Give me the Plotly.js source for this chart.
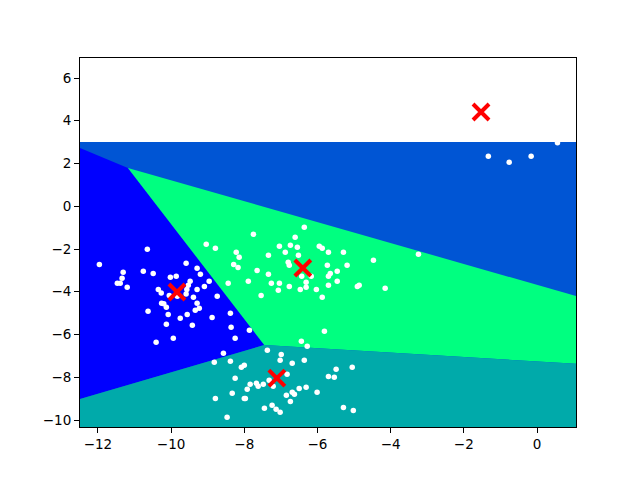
<!DOCTYPE html>
<html>
<head>
<meta charset="utf-8">
<script src="https://cdn.plot.ly/plotly-3.0.1.min.js"></script>
<style>html,body{margin:0;padding:0;background:#fff;}#chart{width:640px;height:480px;}</style>
</head>
<body>
<div id="chart"></div>
<script>
// ---- Data ----
const pointsX = [
  -10.65,-11.96,-9.04,-8.79,-8.22,-8.14,-8.29,-8.17,-9.59,-11.31,-10.76,-10.49,-9.29,-9.20,-10.02,-9.86,-11.34,-11.47,-11.39,-11.20,
  -9.48,-9.53,-8.96,-8.44,-9.09,-10.35,-10.27,-9.57,-9.59,-9.29,-10.05,-9.83,-9.39,-8.74,-10.26,-10.20,-9.29,-10.13,-9.23,-9.34,
  -10.63,-10.08,-9.56,-8.38,-9.75,-8.88,-10.13,-9.42,-8.36,-9.94,-8.25,-10.41,-7.86,-8.57,
  -6.36,-7.75,-6.61,-7.04,-6.74,-6.55,-5.95,-5.87,-6.88,-7.34,-6.52,-5.70,-5.29,-4.47,-6.80,-6.77,-7.65,-5.73,-5.19,-7.34,
  -6.43,-6.17,-5.46,-5.65,-5.70,-7.89,-7.26,-7.04,-6.31,-5.46,-6.77,-6.31,-5.70,-4.91,-4.86,-4.15,-7.07,-6.47,-6.03,-7.54,
  -5.87,-3.24,
  0.56,-1.33,-0.76,-0.16,
  -5.81,-6.44,-6.28,-7.37,-6.99,-7.02,-8.82,-8.38,-6.36,-6.69,-8.00,-8.08,-5.05,-5.49,-5.70,-5.54,-8.25,-7.32,-6.83,-7.84,
  -7.67,-7.62,-7.48,-7.21,-7.92,-6.50,-6.31,-6.01,-8.33,-6.69,-6.63,-6.85,-8.79,-8.00,-7.97,-6.74,-7.24,-7.45,-7.13,-7.02,
  -5.29,-5.02,-8.47
];
const pointsY = [
  -2.01,-2.72,-1.78,-1.97,-2.15,-2.39,-2.72,-2.86,-2.67,-3.09,-3.04,-3.14,-2.90,-3.18,-3.32,-3.28,-3.37,-3.60,-3.60,-3.79,
  -3.51,-3.70,-3.51,-3.60,-3.75,-3.89,-4.06,-3.89,-4.11,-3.89,-4.17,-4.21,-4.26,-4.21,-4.54,-4.56,-4.54,-4.73,-4.77,-4.87,
  -4.91,-5.06,-5.06,-5.01,-5.24,-5.20,-5.52,-5.57,-5.66,-6.18,-6.18,-6.36,-5.80,-6.88,
  -0.98,-1.31,-1.45,-1.87,-1.83,-1.92,-1.87,-1.97,-2.15,-2.29,-2.29,-2.15,-2.15,-2.53,-2.62,-2.76,-3.00,-2.76,-2.76,-3.18,
  -3.28,-3.28,-3.04,-3.14,-3.28,-3.51,-3.60,-3.60,-3.56,-3.51,-3.75,-3.79,-3.70,-3.75,-3.70,-3.84,-3.93,-3.89,-3.89,-4.17,
  -4.26,-2.25,
  2.97,2.34,2.06,2.34,
  -5.85,-6.32,-6.55,-6.74,-6.93,-7.21,-7.30,-7.25,-7.21,-7.35,-7.44,-7.53,-7.53,-7.63,-7.96,-8.00,-8.05,-8.14,-7.86,-8.33,
  -8.28,-8.42,-8.33,-8.42,-8.56,-8.52,-8.47,-8.70,-8.75,-8.70,-8.80,-8.84,-8.99,-8.99,-8.99,-9.13,-9.31,-9.45,-9.50,-9.64,
  -9.41,-9.55,-9.87
];
const centroidsX = [-9.84, -6.40, -7.11, -1.53];
const centroidsY = [-4.01, -2.89, -8.04, 4.41];

// Decision-region mesh (bounds and region boundary vertices)
const meshX = [-12.49, 1.066];
const meshY = [-10.327, 3.006];
const region1X = [-12.49, 1.066, 1.066, -12.49];          // cluster 1 (background of mesh)
const region1Y = [-10.327, -10.327, 3.006, 3.006];
const region0X = [-12.49, -11.18, -7.454, -12.49];         // left cluster
const region0Y = [2.725, 1.79, -6.491, -9.018];
const region3X = [-11.18, 1.066, 1.066, -7.454];           // middle cluster
const region3Y = [1.79, -4.199, -7.366, -6.491];
const region2X = [-12.49, -7.454, 1.066, 1.066, -12.49];   // bottom cluster
const region2Y = [-9.018, -6.491, -7.366, -10.327, -10.327];
const regionColors = ['#0000ff', '#0055d4', '#00aaaa', '#00ff80']; // winter colormap

const xTicks = [-12, -10, -8, -6, -4, -2, 0];
const yTicks = [-10, -8, -6, -4, -2, 0, 2, 4, 6];
const yLimTop = 6.936;

function region(xs, ys, color) {
  return {x: xs, y: ys, type: 'scatter', mode: 'lines', fill: 'toself',
          fillcolor: color, line: {width: 0, color: color}, hoverinfo: 'skip', showlegend: false};
}

const traces = [
  region(region1X, region1Y, regionColors[1]),
  region(region0X, region0Y, regionColors[0]),
  region(region3X, region3Y, regionColors[3]),
  region(region2X, region2Y, regionColors[2]),
  {x: pointsX, y: pointsY, type: 'scatter', mode: 'markers',
   marker: {color: '#ffffff', size: 5.5, line: {width: 0}}, hoverinfo: 'skip', showlegend: false},
  {x: centroidsX, y: centroidsY, type: 'scatter', mode: 'markers',
   marker: {symbol: 'x-thin', size: 16, color: '#ff0000', line: {width: 4, color: '#ff0000'}},
   hoverinfo: 'skip', showlegend: false}
];

const axisCommon = {
  showgrid: false, zeroline: false, showline: true, mirror: true,
  linecolor: '#000', linewidth: 1, ticks: 'outside', ticklen: 5, tickwidth: 1, tickcolor: '#000',
  tickfont: {family: 'DejaVu Sans', size: 13.5, color: '#000'}
};

const layout = {
  width: 640, height: 480,
  margin: {l: 80, r: 64, t: 58, b: 53},
  paper_bgcolor: '#fff', plot_bgcolor: '#fff',
  showlegend: false, hovermode: false,
  xaxis: Object.assign({}, axisCommon, {range: [meshX[0], meshX[1]], tickvals: xTicks, ticktext: xTicks.map(v => (v < 0 ? '\u2212' + Math.abs(v) : String(v)))}),
  yaxis: Object.assign({}, axisCommon, {range: [meshY[0], yLimTop], tickvals: yTicks, ticktext: yTicks.map(v => (v < 0 ? '\u2212' + Math.abs(v) : String(v)))})
};

Plotly.newPlot('chart', traces, layout, {displayModeBar: false, staticPlot: true});
</script>
</body>
</html>
